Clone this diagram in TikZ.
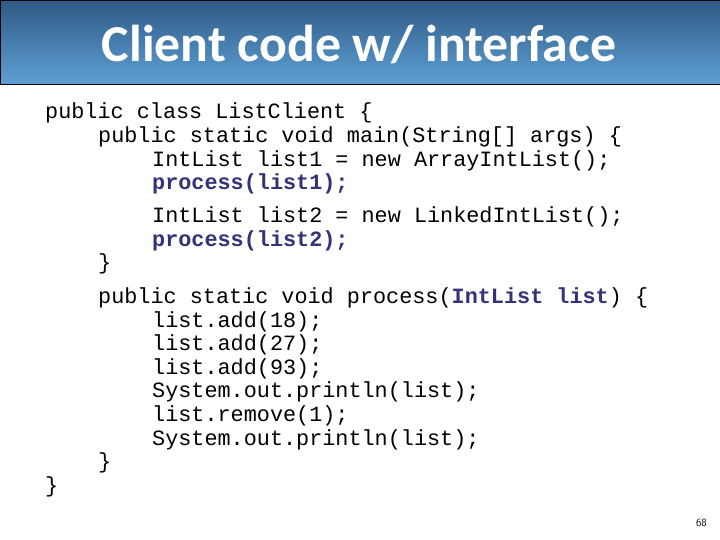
\documentclass[tikz,border=0pt]{standalone}
\usepackage{fontspec}
\setmonofont{Liberation Mono}
\newfontfamily\titlefont{Carlito}
\usetikzlibrary{positioning}
\definecolor{navy}{HTML}{333377}
\definecolor{bartop}{HTML}{2E5A85}
\definecolor{barbot}{HTML}{5E9FD4}
\begin{document}
\begin{tikzpicture}[x=1bp,y=-1bp,
  code/.style={anchor=base west,inner sep=0,font=\fontsize{21.9}{22}\ttfamily},
  hl/.style={code,text=navy,font=\fontsize{21.9}{22}\ttfamily\bfseries}]
\useasboundingbox (0,0) rectangle (720,540);
\fill[white] (0,0) rectangle (720,540);
\shade[top color=bartop,bottom color=barbot,draw=black] (0,0) rectangle (720,84);
\node (title) at (359,45) {\titlefont\bfseries\fontsize{52}{54}\selectfont\color{white}Client code w/ interface};
\node[code] (l1) at (45,119) {public class ListClient \{};
\node[code] (l2) at (98,143) {public static void main(String[] args) \{};
\node[code] (l3) at (152,167) {IntList list1 = new ArrayIntList();};
\node[hl] (l4) at (152,190) {process(list1);};
\node[code] (l5) at (152,223) {IntList list2 = new LinkedIntList();};
\node[hl] (l6) at (152,247) {process(list2);};
\node[code] (l7) at (98,270) {\}};
\node[code] (l8) at (98,303) {public static void process(\textcolor{navy}{\bfseries IntList list}) \{};
\node[code] (l9) at (152,327) {list.add(18);};
\node[code] (l10) at (152,350) {list.add(27);};
\node[code] (l11) at (152,374) {list.add(93);};
\node[code] (l12) at (152,397) {System.out.println(list);};
\node[code] (l13) at (152,421) {list.remove(1);};
\node[code] (l14) at (152,445) {System.out.println(list);};
\node[code] (l15) at (98,468) {\}};
\node[code] (l16) at (45,492) {\}};
\node[anchor=base east,inner sep=0,font=\fontsize{11}{12}\sffamily] (pg) at (707,526) {68};
\end{tikzpicture}
\end{document}
